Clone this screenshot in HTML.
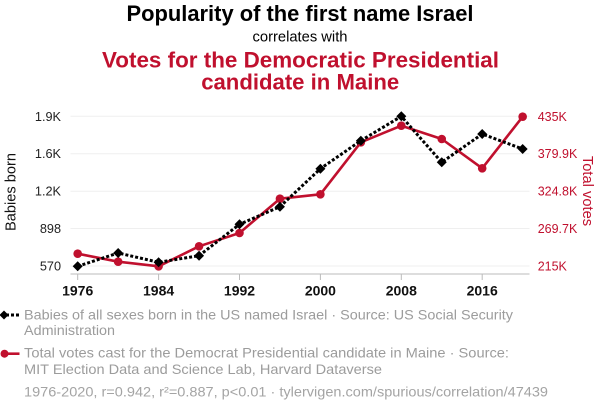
<!DOCTYPE html>
<html>
<head>
<meta charset="utf-8">
<style>
  html, body { margin: 0; padding: 0; background: #ffffff; }
  svg { display: block; }
  text { font-family: "Liberation Sans", Arial, Helvetica, sans-serif; }
</style>
</head>
<body>
<svg width="600" height="414" viewBox="0 0 600 414" xmlns="http://www.w3.org/2000/svg">
  <rect x="0" y="0" width="600" height="414" fill="#ffffff"/>

  <!-- Titles -->
  <text x="300" y="21" text-anchor="middle" font-size="22" font-weight="bold" fill="#000" textLength="347" lengthAdjust="spacingAndGlyphs">Popularity of the first name Israel</text>
  <text x="300" y="41.7" text-anchor="middle" font-size="14.7" fill="#000" textLength="95" lengthAdjust="spacingAndGlyphs">correlates with</text>
  <text x="300.5" y="67.5" text-anchor="middle" font-size="22.3" font-weight="bold" fill="#c0102e" textLength="397" lengthAdjust="spacingAndGlyphs">Votes for the Democratic Presidential</text>
  <text x="300.2" y="89.3" text-anchor="middle" font-size="22.3" font-weight="bold" fill="#c0102e" textLength="198" lengthAdjust="spacingAndGlyphs">candidate in Maine</text>

  <!-- Gridlines -->
  <g stroke="#efefef" stroke-width="1">
    <line x1="70.5" y1="116.3" x2="529.5" y2="116.3"/>
    <line x1="70.5" y1="153.7" x2="529.5" y2="153.7"/>
    <line x1="70.5" y1="191.2" x2="529.5" y2="191.2"/>
    <line x1="70.5" y1="228.5" x2="529.5" y2="228.5"/>
    <line x1="70.5" y1="266" x2="529.5" y2="266"/>
  </g>

  <!-- X axis -->
  <line x1="70.5" y1="274" x2="529.5" y2="274" stroke="#bbbbbb" stroke-width="1"/>
  <g stroke="#bbbbbb" stroke-width="1">
    <line x1="77.7" y1="274" x2="77.7" y2="280"/>
    <line x1="158.6" y1="274" x2="158.6" y2="280"/>
    <line x1="239.5" y1="274" x2="239.5" y2="280"/>
    <line x1="320.4" y1="274" x2="320.4" y2="280"/>
    <line x1="401.3" y1="274" x2="401.3" y2="280"/>
    <line x1="482.2" y1="274" x2="482.2" y2="280"/>
  </g>
  <g font-size="14" font-weight="bold" fill="#111" text-anchor="middle">
    <text x="77.7" y="295.5">1976</text>
    <text x="158.6" y="295.5">1984</text>
    <text x="239.5" y="295.5">1992</text>
    <text x="320.4" y="295.5">2000</text>
    <text x="401.3" y="295.5">2008</text>
    <text x="482.2" y="295.5">2016</text>
  </g>

  <!-- Left axis labels -->
  <g font-size="12.7" fill="#222" text-anchor="end">
    <text x="61" y="120.8">1.9K</text>
    <text x="61" y="158.2">1.6K</text>
    <text x="61" y="195.7">1.2K</text>
    <text x="61" y="233">898</text>
    <text x="61" y="270.5">570</text>
  </g>
  <text transform="translate(15.5,192) rotate(-90)" text-anchor="middle" font-size="14.6" fill="#111">Babies born</text>

  <!-- Right axis labels -->
  <g font-size="12.5" fill="#c0102e" text-anchor="start">
    <text x="537.7" y="120.8">435K</text>
    <text x="537.7" y="158.2">379.9K</text>
    <text x="537.7" y="195.7">324.8K</text>
    <text x="537.7" y="233">269.7K</text>
    <text x="537.7" y="270.5">215K</text>
  </g>
  <text transform="translate(583,191) rotate(90)" text-anchor="middle" font-size="14.7" fill="#c0102e">Total votes</text>

  <!-- Red series -->
  <polyline fill="none" stroke="#c0102e" stroke-width="2.6" stroke-linejoin="round"
    points="77.7,253.7 118.15,261.7 158.6,266.3 199.05,246.3 239.5,233 279.95,198.7 320.4,194.3 360.85,142.3 401.3,125.7 441.75,139 482.2,168.3 522.65,116.7"/>
  <g fill="#c0102e">
    <circle cx="77.7" cy="253.7" r="4.3"/>
    <circle cx="118.15" cy="261.7" r="4.3"/>
    <circle cx="158.6" cy="266.3" r="4.3"/>
    <circle cx="199.05" cy="246.3" r="4.3"/>
    <circle cx="239.5" cy="233" r="4.3"/>
    <circle cx="279.95" cy="198.7" r="4.3"/>
    <circle cx="320.4" cy="194.3" r="4.3"/>
    <circle cx="360.85" cy="142.3" r="4.3"/>
    <circle cx="401.3" cy="125.7" r="4.3"/>
    <circle cx="441.75" cy="139" r="4.3"/>
    <circle cx="482.2" cy="168.3" r="4.3"/>
    <circle cx="522.65" cy="116.7" r="4.3"/>
  </g>

  <!-- Black series -->
  <polyline fill="none" stroke="#000" stroke-width="3" stroke-dasharray="3,2"
    points="77.7,266.3 118.15,253 158.6,262.3 199.05,255.7 239.5,224.3 279.95,206.7 320.4,168.7 360.85,140.7 401.3,116.3 441.75,162.3 482.2,134 522.65,149"/>
  <g fill="#000">
    <path d="M77.7,261.3 L82.7,266.3 L77.7,271.3 L72.7,266.3 Z"/>
    <path d="M118.15,248 L123.15,253 L118.15,258 L113.15,253 Z"/>
    <path d="M158.6,257.3 L163.6,262.3 L158.6,267.3 L153.6,262.3 Z"/>
    <path d="M199.05,250.7 L204.05,255.7 L199.05,260.7 L194.05,255.7 Z"/>
    <path d="M239.5,219.3 L244.5,224.3 L239.5,229.3 L234.5,224.3 Z"/>
    <path d="M279.95,201.7 L284.95,206.7 L279.95,211.7 L274.95,206.7 Z"/>
    <path d="M320.4,163.7 L325.4,168.7 L320.4,173.7 L315.4,168.7 Z"/>
    <path d="M360.85,135.7 L365.85,140.7 L360.85,145.7 L355.85,140.7 Z"/>
    <path d="M401.3,111.3 L406.3,116.3 L401.3,121.3 L396.3,116.3 Z"/>
    <path d="M441.75,157.3 L446.75,162.3 L441.75,167.3 L436.75,162.3 Z"/>
    <path d="M482.2,129 L487.2,134 L482.2,139 L477.2,134 Z"/>
    <path d="M522.65,144 L527.65,149 L522.65,154 L517.65,149 Z"/>
  </g>

  <!-- Legend -->
  <line x1="6" y1="315" x2="21" y2="315" stroke="#000" stroke-width="3" stroke-dasharray="3,2"/>
  <path d="M4,310.5 L8.5,315 L4,319.5 L-0.5,315 Z" fill="#000"/>
  <text x="24" y="319.3" font-size="14" fill="#9c9c9c" textLength="489" lengthAdjust="spacingAndGlyphs">Babies of all sexes born in the US named Israel · Source: US Social Security</text>
  <text x="24" y="335" font-size="14" fill="#9c9c9c" textLength="91" lengthAdjust="spacingAndGlyphs">Administration</text>

  <line x1="4" y1="353.7" x2="19.5" y2="353.7" stroke="#c0102e" stroke-width="2.6"/>
  <circle cx="4.5" cy="353.7" r="4" fill="#c0102e"/>
  <text x="24" y="357.5" font-size="14" fill="#9c9c9c" textLength="485" lengthAdjust="spacingAndGlyphs">Total votes cast for the Democrat Presidential candidate in Maine · Source:</text>
  <text x="24" y="374" font-size="14" fill="#9c9c9c" textLength="358" lengthAdjust="spacingAndGlyphs">MIT Election Data and Science Lab, Harvard Dataverse</text>

  <text x="24" y="396.7" font-size="14" fill="#a4a4a4" textLength="524" lengthAdjust="spacingAndGlyphs">1976-2020, r=0.942, r²=0.887, p&lt;0.01 · tylervigen.com/spurious/correlation/47439</text>
</svg>
</body>
</html>
